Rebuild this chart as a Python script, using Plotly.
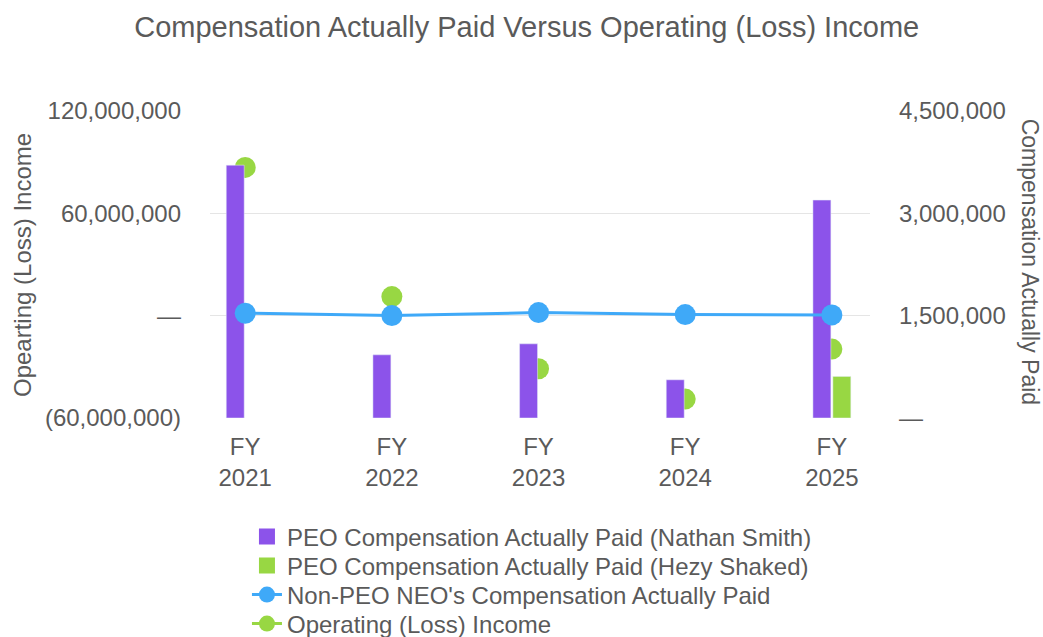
import plotly.graph_objects as go

categories = ["FY<br>2021", "FY<br>2022", "FY<br>2023", "FY<br>2024", "FY<br>2025"]
peo_smith = [3706000, 926000, 1087000, 560000, 3194000]
peo_shaked = [None, None, None, None, 609000]
non_peo = [1536000, 1501000, 1545000, 1516000, 1511000]
op_income = [86900000, 11200000, -31100000, -48900000, -19600000]

left_tickvals = [-60000000, 0, 60000000, 120000000]
left_ticktext = ["(60,000,000)", "—", "60,000,000", "120,000,000"]
right_tickvals = [0, 1500000, 3000000, 4500000]
right_ticktext = ["—", "1,500,000", "3,000,000", "4,500,000"]

PURPLE = "#8c53ea"
GREEN = "#98d743"
BLUE = "#3fa9f8"
TXT = "#5a5a5a"
FONT = "Liberation Sans, Arial, sans-serif"

NAME_SMITH = "PEO Compensation Actually Paid (Nathan Smith)"
NAME_SHAKED = "PEO Compensation Actually Paid (Hezy Shaked)"
NAME_NONPEO = "Non-PEO NEO's Compensation Actually Paid"
NAME_OPINC = "Operating (Loss) Income"

fig = go.Figure()
fig.add_trace(go.Bar(x=categories, y=peo_smith, name=NAME_SMITH,
                     marker_color=PURPLE, yaxis="y2", showlegend=False))
fig.add_trace(go.Bar(x=categories, y=peo_shaked, name=NAME_SHAKED,
                     marker_color=GREEN, yaxis="y2", showlegend=False))
fig.add_trace(go.Scatter(x=categories, y=non_peo, name=NAME_NONPEO,
                         mode="lines+markers", line=dict(color=BLUE, width=3),
                         marker=dict(color=BLUE, size=21), yaxis="y2", showlegend=False))
fig.add_trace(go.Scatter(x=categories, y=op_income, name=NAME_OPINC,
                         mode="markers", marker=dict(color=GREEN, size=21), yaxis="y",
                         showlegend=False))

# legend entries (one legend per row to match the reference spacing)
fig.add_trace(go.Scatter(x=[None], y=[None], name=NAME_SMITH, mode="markers",
                         marker=dict(color=PURPLE, size=22, symbol="square"), legend="legend"))
fig.add_trace(go.Scatter(x=[None], y=[None], name=NAME_SHAKED, mode="markers",
                         marker=dict(color=GREEN, size=22, symbol="square"), legend="legend2"))
fig.add_trace(go.Scatter(x=[None], y=[None], name=NAME_NONPEO, mode="lines+markers",
                         line=dict(color=BLUE, width=3), marker=dict(color=BLUE, size=21),
                         legend="legend3"))
fig.add_trace(go.Scatter(x=[None], y=[None], name=NAME_OPINC, mode="lines+markers",
                         line=dict(color=GREEN, width=3), marker=dict(color=GREEN, size=21),
                         legend="legend4"))

row_centers = [537, 566, 595, 624]
legend_common = dict(x=0.056, xanchor="left", yref="container", yanchor="middle",
                     orientation="v", font=dict(size=24, color=TXT),
                     bgcolor="rgba(0,0,0,0)")

fig.update_layout(
    width=1043, height=637,
    paper_bgcolor="white", plot_bgcolor="white",
    font=dict(family=FONT, color=TXT, size=22),
    title=dict(text="Compensation Actually Paid Versus Operating (Loss) Income",
               x=0.505, xanchor="center", y=1 - 27 / 637, yanchor="middle",
               font=dict(size=29, color=TXT)),
    margin=dict(l=210, r=173, t=111, b=219),
    barmode="group", bargap=0.728, bargroupgap=0.1,
    showlegend=True,
    legend=dict(legend_common, y=1 - row_centers[0] / 637),
    legend2=dict(legend_common, y=1 - row_centers[1] / 637),
    legend3=dict(legend_common, y=1 - row_centers[2] / 637),
    legend4=dict(legend_common, y=1 - row_centers[3] / 637),
    xaxis=dict(type="category", range=[-0.24, 4.26], showgrid=False, showline=False,
               tickfont=dict(size=24, color=TXT), ticks="", ticklabelstandoff=12,
               automargin=False),
    yaxis=dict(range=[-60000000, 120000000], tickvals=left_tickvals, ticktext=left_ticktext,
               showgrid=True, gridcolor="#e5e5e5", gridwidth=1, zeroline=False,
               tickfont=dict(size=24, color=TXT), ticklabelstandoff=28, automargin=False),
    yaxis2=dict(range=[0, 4500000], tickvals=right_tickvals, ticktext=right_ticktext,
                overlaying="y", side="right", showgrid=False, zeroline=False,
                tickfont=dict(size=24, color=TXT), ticklabelstandoff=28, automargin=False),
    annotations=[
        dict(text="Opearting (Loss) Income", textangle=-90, xref="paper", yref="paper",
             x=-0.285, y=0.498, xanchor="center", yanchor="middle", showarrow=False,
             font=dict(size=24, color=TXT)),
        dict(text="Compensation Actually Paid", textangle=90, xref="paper", yref="paper",
             x=1.242, y=0.51, xanchor="center", yanchor="middle", showarrow=False,
             font=dict(size=23, color=TXT)),
    ],
)

fig.write_html("out.html", config={"displayModeBar": False},
               post_script="document.body.style.margin='0';")
